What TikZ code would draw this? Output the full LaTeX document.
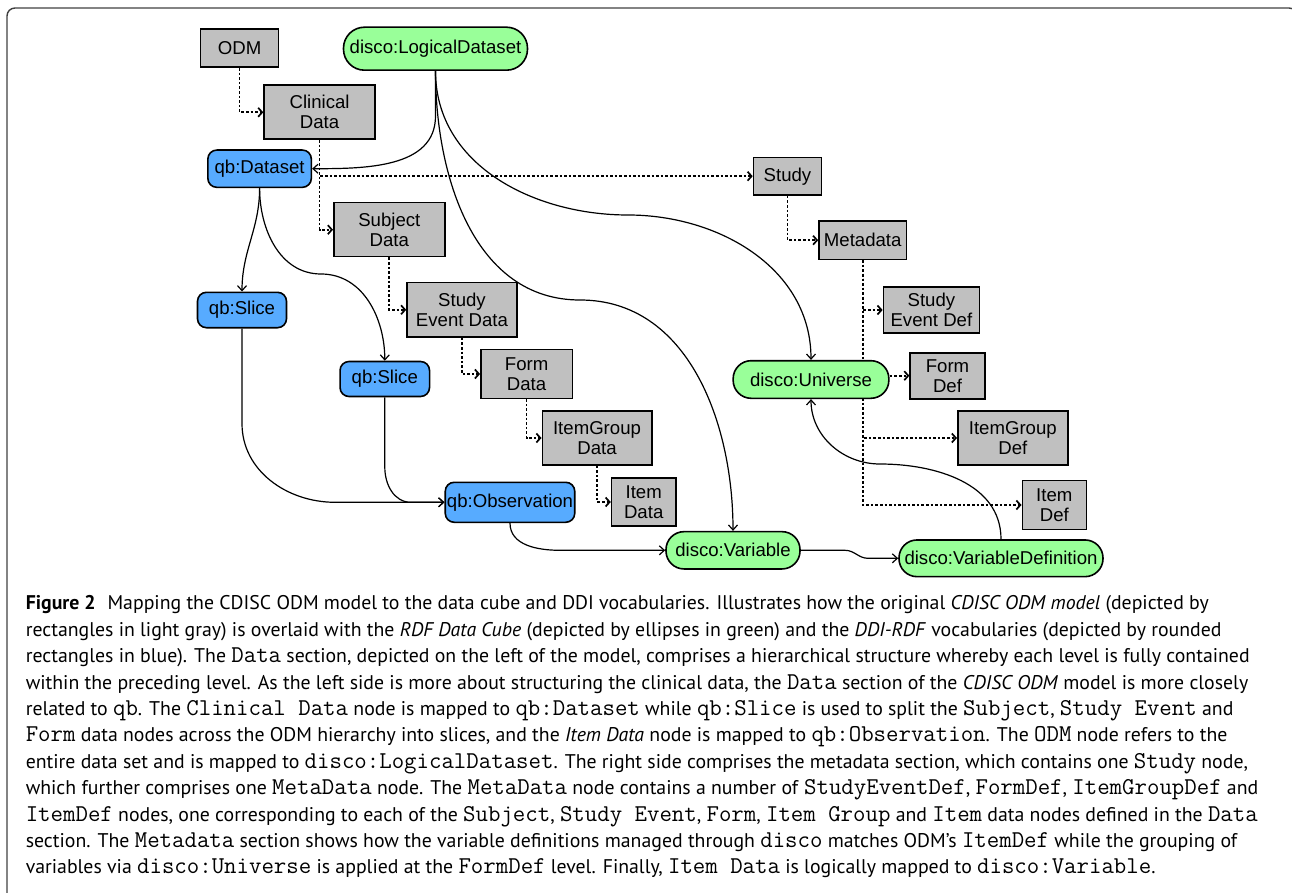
\documentclass[tikz,border=0pt]{standalone}
\usepackage{fontspec}
\setmainfont{PT Sans}
\setsansfont{Liberation Sans}
\setmonofont{Latin Modern Mono}[Scale=1.22]
\usetikzlibrary{arrows.meta,backgrounds}
\definecolor{odmgray}{RGB}{192,192,192}
\definecolor{discogreen}{RGB}{153,255,153}
\definecolor{qbblue}{RGB}{87,171,255}
\def\cd#1{\texttt{#1}}

\begin{document}
\begin{tikzpicture}[x=1pt, y=1pt,
	every node/.style={font=\sffamily\fontsize{18.6}{20}\selectfont, align=center, inner sep=0pt, line width=1.6pt},
	odmbox/.style={draw, fill=odmgray},
	qbbox/.style={draw, fill=qbblue, rounded corners=9pt},
	discobox/.style={draw, fill=discogreen, rounded corners=18pt},
	link/.style={line width=1.2pt, -{Straight Barb[length=5pt,width=9pt]}},
	nest/.style={line width=1.7pt, dash pattern=on 2.6pt off 2pt, -{Straight Barb[length=4pt,width=9pt]}}]
	\useasboundingbox (0,0) rectangle (1292,-893);
	\draw[line width=1.4pt, draw=black!75, rounded corners=8pt] (7,-8) rectangle (1297,-905);
	% ODM model
	\node[odmbox, minimum width=78pt, minimum height=38pt] (odm) at (239.6,-48.3) {ODM};
	\node[odmbox, minimum width=111pt, minimum height=54pt] (clin) at (319.6,-112.3) {Clinical\\Data};
	\node[odmbox, minimum width=111pt, minimum height=54pt] (subj) at (389.3,-229.7) {Subject\\Data};
	\node[odmbox, minimum width=110pt, minimum height=54.3pt] (sed) at (462,-309.8) {Study\\Event Data};
	\node[odmbox, minimum width=91.5pt, minimum height=48.7pt] (form) at (526.6,-374) {Form\\Data};
	\node[odmbox, minimum width=109.4pt, minimum height=53.7pt] (igd) at (597,-438) {ItemGroup\\Data};
	\node[odmbox, minimum width=64.3pt, minimum height=48.3pt] (itd) at (643.7,-502) {Item\\Data};
	\node[odmbox, minimum width=68pt, minimum height=37.7pt] (study) at (787.5,-176.2) {Study};
	\node[odmbox, minimum width=87.4pt, minimum height=38.3pt] (meta) at (862.7,-240.2) {Metadata};
	\node[odmbox, minimum width=96pt, minimum height=46pt] (sedef) at (931.4,-310) {Study\\Event Def};
	\node[odmbox, minimum width=74.6pt, minimum height=46pt] (fdef) at (947.5,-375.7) {Form\\Def};
	\node[odmbox, minimum width=110pt, minimum height=54pt] (igdef) at (1012.8,-438) {ItemGroup\\Def};
	\node[odmbox, minimum width=64pt, minimum height=48.7pt] (idef) at (1054.3,-505) {Item\\Def};
	% data cube
	\node[qbbox, minimum width=103.5pt, minimum height=37.3pt] (ds) at (259.6,-168.7) {qb:Dataset};
	\node[qbbox, minimum width=89pt, minimum height=35.4pt] (sla) at (242,-310) {qb:Slice};
	\node[qbbox, minimum width=89.5pt, minimum height=35pt] (slb) at (384.8,-379) {qb:Slice};
	\node[qbbox, minimum width=129.5pt, minimum height=40pt] (obs) at (510,-502.3) {qb:Observation};
	% disco
	\node[discobox, rounded corners=21pt, minimum width=184pt, minimum height=43pt] (ld) at (435.5,-48.7) {disco:LogicalDataset};
	\node[discobox, minimum width=155.7pt, minimum height=37.6pt] (uni) at (811,-379.5) {disco:Universe};
	\node[discobox, minimum width=134pt, minimum height=37.3pt] (var) at (733,-550.3) {disco:Variable};
	\node[discobox, minimum width=204pt, minimum height=36.7pt] (vd) at (1001,-558.3) {disco:VariableDefinition};
	\begin{scope}[on background layer]
		\draw[nest] (odm.south) |- (clin.west);
		\draw[nest] (clin.south) |- (study.west);
		\draw[nest] (clin.south) |- (subj.west);
		\draw[nest] (subj.south) |- (sed.west);
		\draw[nest] (sed.south) |- (form.west);
		\draw[nest] (form.south) |- (igd.west);
		\draw[nest] (igd.south) |- (itd.west);
		\draw[nest] (study.south) |- (meta.west);
		\foreach \d in {sedef,fdef,igdef,idef}
			\draw[nest] (meta.south) |- (\d.west);
		\draw[link] (ld.south) -- ++(0,-45) to[out=-90,in=0] (ds.east);
		\draw[link] (ld.south) to[out=-90,in=180] (580,-300) to[out=0,in=90] (var.north);
		\draw[link] (ld.south) to[out=-90,in=180] (628,-215) to[out=0,in=90] (uni.north);
		\draw[link] (ds.south) to[out=-90,in=90] (sla.north);
		\draw[link] (ds.south) to[out=-90,in=180] (321,-274) to[out=0,in=90] (slb.north);
		\draw[link] (sla.south) -- ++(0,-95) to[out=-90,in=180] (335,-502.3) -- (obs.west);
		\draw[link] (slb.south) -- ++(0,-70) to[out=-90,in=180] (411,-502.3) -- (obs.west);
		\draw[link] (obs.south) to[out=-90,in=180] (560,-550.3) -- (var.west);
		\draw[link] (var.east) -- (845,-550.3) to[out=0,in=180] (868,-558.3) -- (vd.west);
		\draw[link] (vd.north) to[out=90,in=0] (880,-464) to[out=180,in=-90] (uni.south);
	\end{scope}
	% caption
	\node[anchor=north west, align=left, font=\rmfamily\fontsize{19.8}{26.4}\selectfont] (cap) at (25,-595) {%
		\textbf{Figure 2}\hspace{0.6em}Mapping the CDISC ODM model to the data cube and DDI vocabularies. Illustrates how the original \textit{CDISC ODM model} (depicted by\\
		rectangles in light gray) is overlaid with the \textit{RDF Data Cube} (depicted by ellipses in green) and the \textit{DDI-RDF} vocabularies (depicted by rounded\\
		rectangles in blue). The \cd{Data} section, depicted on the left of the model, comprises a hierarchical structure whereby each level is fully contained\\
		within the preceding level. As the left side is more about structuring the clinical data, the \cd{Data} section of the \textit{CDISC ODM} model is more closely\\
		related to \cd{qb}. The \cd{Clinical Data} node is mapped to \cd{qb:Dataset} while \cd{qb:Slice} is used to split the \cd{Subject}, \cd{Study Event} and\\
		\cd{Form} data nodes across the ODM hierarchy into slices, and the \textit{Item Data} node is mapped to \cd{qb:Observation}. The \cd{ODM} node refers to the\\
		entire data set and is mapped to \cd{disco:LogicalDataset}. The right side comprises the metadata section, which contains one \cd{Study} node,\\
		which further comprises one \cd{MetaData} node. The \cd{MetaData} node contains a number of \cd{StudyEventDef}, \cd{FormDef}, \cd{ItemGroupDef} and\\
		\cd{ItemDef} nodes, one corresponding to each of the \cd{Subject}, \cd{Study Event}, \cd{Form}, \cd{Item Group} and \cd{Item} data nodes defined in the \cd{Data}\\
		section. The \cd{Metadata} section shows how the variable definitions managed through \cd{disco} matches ODM’s \cd{ItemDef} while the grouping of\\
		variables via \cd{disco:Universe} is applied at the \cd{FormDef} level. Finally, \cd{Item Data} is logically mapped to \cd{disco:Variable}.};
\end{tikzpicture}
\end{document}
